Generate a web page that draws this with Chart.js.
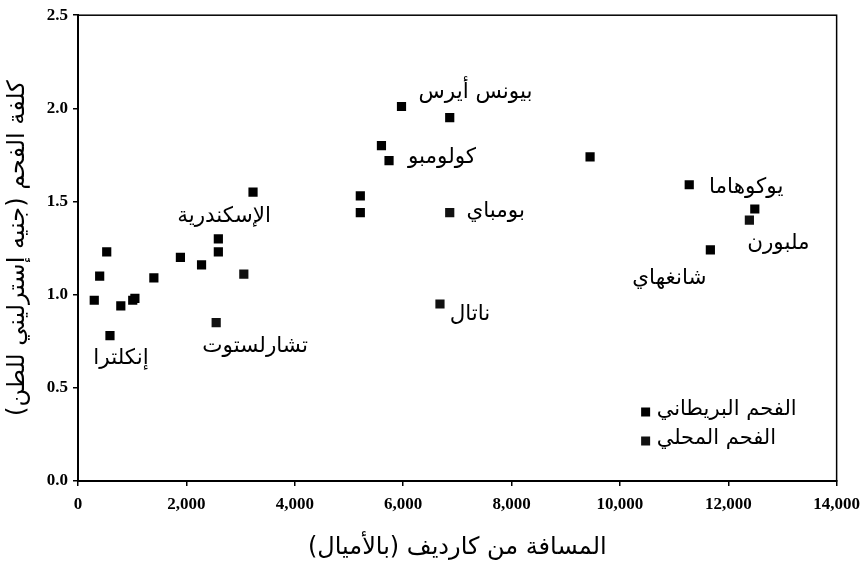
<!DOCTYPE html>
<html lang="ar">
<head>
<meta charset="utf-8">
<script src="https://cdn.jsdelivr.net/npm/chart.js@4.4.1/dist/chart.umd.min.js"></script>
<style>
  html, body { margin: 0; padding: 0; background: #fff; }
  #myChart { display: block; direction: rtl; }
</style>
</head>
<body>
<canvas id="myChart" width="868" height="570" dir="rtl"></canvas>
<script>
// المسافة من كارديف (ميل) وكلفة الفحم (جنيه للطن)
const britishDistance = [300, 400, 530, 590, 790, 1010, 1050, 1400, 1890, 2280, 2590, 2590, 3230, 5210, 5210, 5600, 5740, 5970, 6860, 9450, 11280, 11670, 12490];
const britishCost = [0.97, 1.10, 1.23, 0.78, 0.94, 0.97, 0.98, 1.09, 1.20, 1.16, 1.23, 1.30, 1.55, 1.44, 1.53, 1.80, 1.72, 2.01, 1.95, 1.74, 1.59, 1.24, 1.46];
const britishNames = ["", "", "", "إنكلترا", "", "", "", "", "", "", "", "", "الإسكندرية", "", "", "", "كولومبو", "بيونس أيرس", "", "", "يوكوهاما", "شانغهاي", ""];

const localDistance = [2550, 3060, 6680, 6860, 12390];
const localCost = [0.85, 1.11, 0.95, 1.44, 1.40];
const localNames = ["تشارلستوت", "", "ناتال", "بومباي", "ملبورن"];

const seriesNames = ["الفحم البريطاني", "الفحم المحلي"];
const xTicks = [0, 2000, 4000, 6000, 8000, 10000, 12000, 14000];
const yTicks = [0, 0.5, 1.0, 1.5, 2.0, 2.5];

const xTitle = "المسافة من كارديف (بالأميال)";
const yTitle = "كلفة الفحم (جنيه إسترليني للطن)";

// إزاحة النص عن النقطة بالبكسل
const labelOffsets = {
  "إنكلترا": [11, 23],
  "الإسكندرية": [-29, 24],
  "كولومبو": [53, -3],
  "بيونس أيرس": [74, -14],
  "يوكوهاما": [57, 3],
  "شانغهاي": [-41, 28],
  "تشارلستوت": [39, 24],
  "ناتال": [30, 10],
  "بومباي": [46, -1],
  "ملبورن": [29, 23]
};

const arabicFont = "'DejaVu Sans', sans-serif";
const numberFont = "'Liberation Serif', 'Times New Roman', serif";

const chartDOM = document.querySelector("#myChart");

const toPoints = (xs, ys) => xs.map((x, i) => ({ x: x, y: ys[i] }));

const frame = {
  id: "frame",
  afterDraw(chart) {
    const { ctx, chartArea } = chart;
    ctx.save();
    ctx.strokeStyle = "#000";
    ctx.lineWidth = 1.5;
    ctx.strokeRect(chartArea.left, chartArea.top, chartArea.right - chartArea.left, chartArea.bottom - chartArea.top);
    ctx.restore();
  }
};

const pointNames = {
  id: "pointNames",
  afterDatasetsDraw(chart) {
    const ctx = chart.ctx;
    const lists = [britishNames, localNames];
    ctx.save();
    ctx.fillStyle = "#000";
    ctx.font = "21.5px " + arabicFont;
    ctx.textAlign = "center";
    ctx.textBaseline = "middle";
    lists.forEach((names, d) => {
      const meta = chart.getDatasetMeta(d);
      names.forEach((name, i) => {
        if (!name) return;
        const pt = meta.data[i];
        const off = labelOffsets[name] || [0, -14];
        ctx.fillText(name, pt.x + off[0], pt.y + off[1]);
      });
    });
    ctx.restore();
  }
};

// مفتاح الرسم داخل منطقة الرسم
const innerLegend = {
  id: "innerLegend",
  afterDraw(chart) {
    const { ctx, chartArea } = chart;
    ctx.save();
    ctx.font = "21px " + arabicFont;
    ctx.textAlign = "left";
    ctx.textBaseline = "middle";
    chart.data.datasets.forEach((ds, i) => {
      const x = chartArea.right - 191;
      const y = chartArea.bottom - 69 + i * 29;
      ctx.fillStyle = ds.backgroundColor;
      ctx.fillRect(x - 4.5, y - 4.5, 9, 9);
      ctx.fillStyle = "#000";
      ctx.fillText(ds.label, x + 11, y - 2);
    });
    ctx.restore();
  }
};

const axisLook = {
  border: { display: true, color: "#000", width: 2 },
  grid: { drawOnChartArea: false, drawTicks: true, tickLength: 5, color: "#000", lineWidth: 1.5 }
};

const config = {
  type: "scatter",
  data: {
    datasets: [
      {
        label: seriesNames[0],
        data: toPoints(britishDistance, britishCost),
        backgroundColor: "#000",
        borderColor: "#000",
        pointStyle: "rect",
        pointRadius: 6.5,
        borderWidth: 0
      },
      {
        label: seriesNames[1],
        data: toPoints(localDistance, localCost),
        backgroundColor: "#111",
        borderColor: "#111",
        pointStyle: "rect",
        pointRadius: 6.5,
        borderWidth: 0
      }
    ]
  },
  options: {
    responsive: false,
    animation: false,
    layout: { padding: { top: 11, right: 27, left: 0, bottom: 0 } },
    plugins: {
      legend: { display: false },
      tooltip: { enabled: false }
    },
    scales: {
      x: {
        type: "linear",
        min: xTicks[0],
        max: xTicks[xTicks.length - 1],
        ...axisLook,
        afterBuildTicks: (scale) => { scale.ticks = xTicks.map((v) => ({ value: v })); },
        afterFit: (scale) => { scale.height = 89; },
        ticks: {
          padding: 8,
          color: "#000",
          font: { family: numberFont, size: 17, weight: "bold" },
          callback: (v) => v.toLocaleString("en-US")
        },
        title: {
          display: true,
          text: xTitle,
          color: "#000",
          font: { family: arabicFont, size: 24 },
          padding: { top: 0, bottom: 8 }
        }
      },
      y: {
        type: "linear",
        min: yTicks[0],
        max: yTicks[yTicks.length - 1],
        ...axisLook,
        afterBuildTicks: (scale) => { scale.ticks = yTicks.map((v) => ({ value: v })); },
        afterFit: (scale) => { scale.width = 78; },
        ticks: {
          padding: 5,
          color: "#000",
          font: { family: numberFont, size: 17, weight: "bold" },
          callback: (v) => Number(v).toFixed(1)
        },
        title: {
          display: true,
          text: yTitle,
          color: "#000",
          font: { family: arabicFont, size: 24 },
          padding: { top: 3, bottom: 0 }
        }
      }
    }
  },
  plugins: [frame, pointNames, innerLegend]
};

const myChart = new Chart(chartDOM, config);
</script>
</body>
</html>
